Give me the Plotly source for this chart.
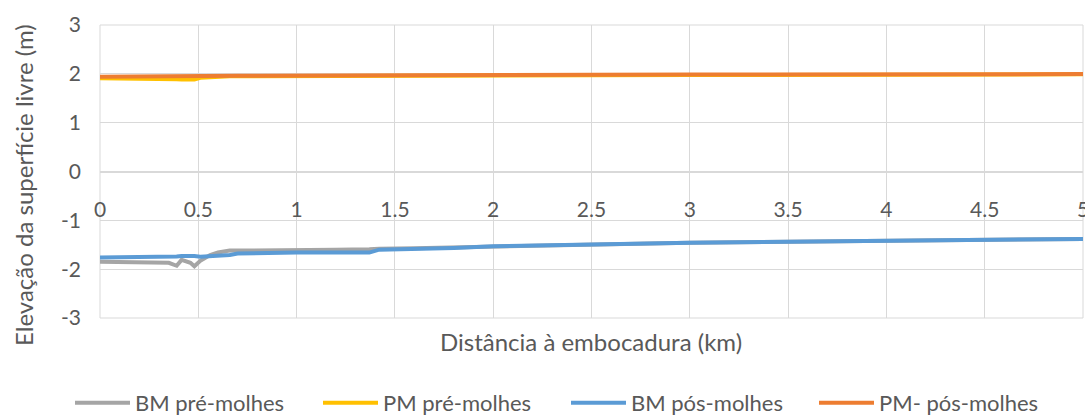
import plotly.graph_objects as go

dist_km = [0, 0.05, 0.1, 0.15, 0.2, 0.25, 0.3, 0.35, 0.39, 0.415, 0.46, 0.48, 0.51, 0.56, 0.6, 0.66,
           0.7, 0.8, 0.9, 1.0, 1.2, 1.37, 1.42, 1.6, 1.8, 2.0, 2.5, 3.0, 3.5, 4.0, 4.5, 5.0]

bm_pre = [-1.85, -1.85, -1.86, -1.85, -1.86, -1.86, -1.86, -1.87, -1.93, -1.81, -1.87, -1.94, -1.83,
          -1.71, -1.66, -1.62, -1.62, -1.62, -1.61, -1.61, -1.60, -1.59, -1.58, -1.57, -1.555, -1.53,
          -1.49, -1.46, -1.44, -1.42, -1.40, -1.38]

pm_pre = [1.91, 1.91, 1.905, 1.905, 1.90, 1.90, 1.90, 1.895, 1.89, 1.885, 1.88, 1.885, 1.92, 1.935,
          1.945, 1.95, 1.95, 1.95, 1.955, 1.955, 1.96, 1.96, 1.96, 1.965, 1.965, 1.97, 1.97, 1.975,
          1.98, 1.98, 1.985, 1.99]

bm_pos = [-1.76, -1.76, -1.76, -1.755, -1.75, -1.75, -1.745, -1.74, -1.74, -1.73, -1.72, -1.73, -1.745,
          -1.74, -1.73, -1.71, -1.68, -1.67, -1.665, -1.66, -1.66, -1.66, -1.60, -1.585, -1.565, -1.53,
          -1.49, -1.46, -1.44, -1.42, -1.40, -1.38]

pm_pos = [1.94, 1.94, 1.94, 1.94, 1.94, 1.94, 1.94, 1.94, 1.94, 1.94, 1.945, 1.945, 1.95, 1.955,
          1.96, 1.96, 1.96, 1.962, 1.964, 1.966, 1.968, 1.97, 1.97, 1.972, 1.975, 1.977, 1.98, 1.984,
          1.987, 1.99, 1.993, 1.996]

series_names = ["BM pré-molhes", "PM pré-molhes", "BM pós-molhes", "PM- pós-molhes"]
series_values = [bm_pre, pm_pre, bm_pos, pm_pos]
series_colors = ["#A5A5A5", "#FFC000", "#5B9BD5", "#ED7D31"]

x_ticks = [0, 0.5, 1, 1.5, 2, 2.5, 3, 3.5, 4, 4.5, 5]
x_tick_labels = ["0", "0.5", "1", "1.5", "2", "2.5", "3", "3.5", "4", "4.5", "5"]
y_ticks = [-3, -2, -1, 0, 1, 2, 3]
y_tick_labels = ["-3", "-2", "-1", "0", "1", "2", "3"]

x_title = "Distância à embocadura (km)"
y_title = "Elevação da superfície livre (m)"

FONT = "Lato"
TXT = "#595959"
GRID = "#D9D9D9"

# plot area geometry (px)
L, R, T, B = 100, 2, 25, 100
W, H = 1085, 418
PW, PH = W - L - R, H - T - B
def px_x(p):
    return (p - L) / PW
def px_y(p):
    return (H - B - p) / PH

fig = go.Figure()
for name, vals, col in zip(series_names, series_values, series_colors):
    fig.add_trace(go.Scatter(x=dist_km, y=vals, mode="lines", name=name,
                             line=dict(color=col, width=4)))

fig.update_layout(
    width=W, height=H,
    margin=dict(l=L, r=R, t=T, b=B, autoexpand=False),
    paper_bgcolor="white", plot_bgcolor="white",
    font=dict(family=FONT, color=TXT, size=21),
    xaxis=dict(range=[0, 5], tickvals=x_ticks, ticktext=x_tick_labels,
               showgrid=True, gridcolor=GRID, gridwidth=1,
               zeroline=False, showline=True, linecolor=GRID, linewidth=1,
               anchor="free", position=0.5, ticks="", ticklabelstandoff=19,
               ticklabeloverflow="allow",
               tickfont=dict(size=21, color=TXT)),
    yaxis=dict(range=[-3, 3], tickvals=y_ticks, ticktext=y_tick_labels,
               showgrid=True, gridcolor=GRID, gridwidth=1,
               zeroline=False, showline=False, ticks="", ticklabelstandoff=18,
               tickfont=dict(size=21, color=TXT)),
    legend=dict(orientation="h", x=px_x(70), xanchor="left", y=px_y(382), yanchor="top",
                font=dict(size=22, color=TXT), itemwidth=55,
                entrywidth=178, entrywidthmode="pixels",
                bgcolor="rgba(0,0,0,0)"),
    showlegend=True,
)

fig.add_shape(type="rect", xref="paper", yref="paper", x0=0, x1=1, y0=0, y1=1,
              line=dict(color=GRID, width=1), layer="below")

fig.add_annotation(text=x_title, xref="paper", yref="paper",
                   x=px_x(591), y=px_y(342), xanchor="center", yanchor="middle",
                   showarrow=False, font=dict(size=24, color=TXT, family=FONT))

fig.add_annotation(text=y_title, xref="paper", yref="paper", textangle=-90,
                   x=px_x(23), y=px_y(185), xanchor="center", yanchor="middle",
                   showarrow=False, font=dict(size=24, color=TXT, family=FONT))

fig.write_html("out.html")
